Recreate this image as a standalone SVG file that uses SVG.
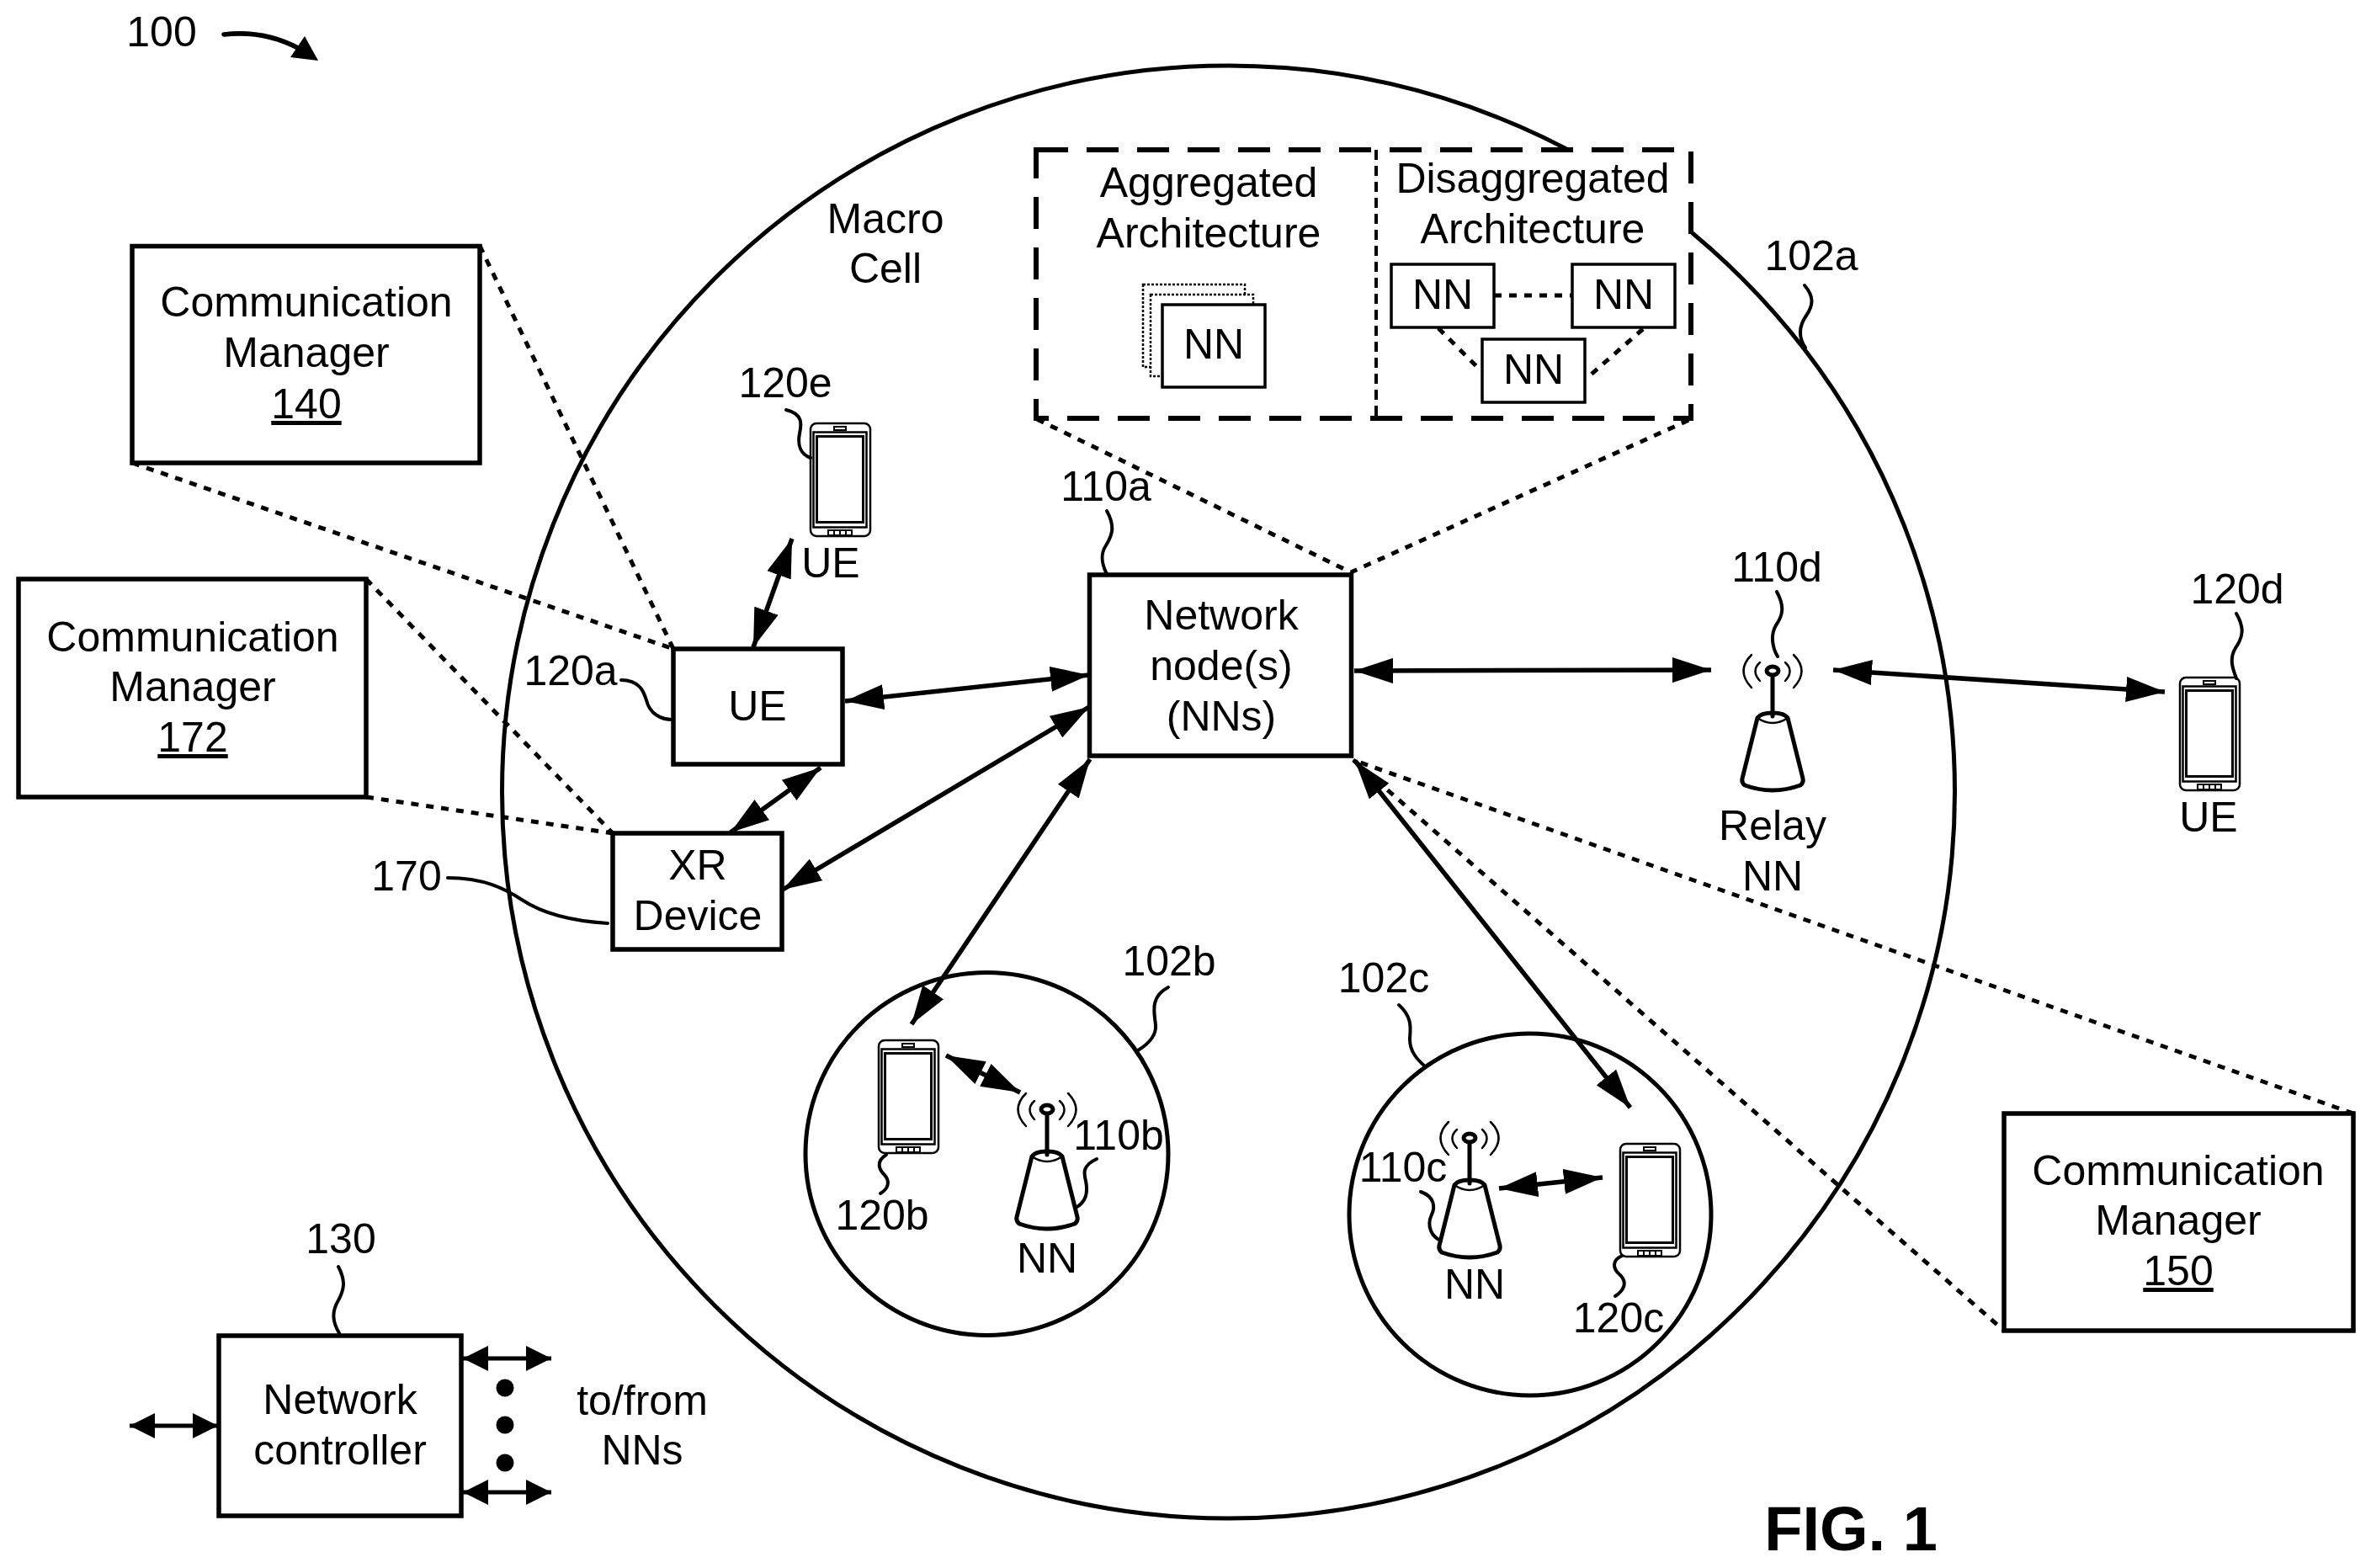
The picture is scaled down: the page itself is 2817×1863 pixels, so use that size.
<svg xmlns="http://www.w3.org/2000/svg" xmlns:xlink="http://www.w3.org/1999/xlink" width="2817" height="1863" viewBox="0 0 2817 1863">
<style>
text{font-family:"Liberation Sans",Arial,sans-serif;font-size:50px;fill:#000;text-anchor:middle}
.b{fill:#fff;stroke:#000;stroke-width:5.5}
.c{fill:none;stroke:#000;stroke-width:5}
.s{fill:none;stroke:#000;stroke-width:4;stroke-linecap:round}
.d{fill:none;stroke:#000;stroke-width:5;stroke-dasharray:9 9}
.a{fill:none;stroke:#000;stroke-width:5.5;marker-start:url(#h);marker-end:url(#h)}
.a2{fill:none;stroke:#000;stroke-width:5;marker-start:url(#m);marker-end:url(#m)}
</style>
<defs>
<marker id="h" markerUnits="userSpaceOnUse" markerWidth="46" markerHeight="30" refX="46" refY="15" orient="auto-start-reverse"><path d="M0,0L46,15L0,30z"/></marker>
<marker id="m" markerUnits="userSpaceOnUse" markerWidth="30" markerHeight="30" refX="30" refY="15" orient="auto-start-reverse"><path d="M0,0L30,15L0,30z"/></marker>
<g id="tower" fill="none" stroke="#000" stroke-linecap="round">
<ellipse cx="0" cy="0" rx="7" ry="5" stroke-width="5"/>
<path d="M0,6V54" stroke-width="5"/>
<path d="M-15,-10Q-26,0 -15,12M15,-10Q26,0 15,12M-25,-19Q-44,0 -25,20M25,-19Q44,0 25,20" stroke-width="2.5"/>
<path d="M-18,56L-36,128Q-37,133 -33,136Q0,148 33,136Q37,133 36,128L18,56Q14,50 0,50Q-14,50 -18,56Z" stroke-width="5"/>
<path d="M-18,56Q0,68 18,56" stroke-width="2.5"/>
</g>
<g id="phone" fill="none" stroke="#000">
<rect x="0" y="0" width="71" height="134" rx="7" stroke-width="2.5"/>
<rect x="3.5" y="10.5" width="63" height="113" stroke-width="2.5"/>
<rect x="7.5" y="15.5" width="55" height="102" stroke-width="3"/>
<rect x="28" y="4" width="14" height="4" stroke-width="2"/>
<path d="M21,127h28v6h-28zM28,127v6M35,127v6M42,127v6" stroke-width="2"/>
</g>
</defs>
<rect width="2817" height="1863" fill="#fff"/>
<g id="macro-cell">
<circle class="c" cx="1459.5" cy="941" r="863"/>
<text x="1052" y="277">Macro</text>
<text x="1052" y="336">Cell</text>
<text x="2152" y="321">102a</text>
<path class="s" d="M2144,339C2155,352 2155,362 2146,375C2137,388 2136,400 2145,413"/>
</g>
<g id="cell-102b">
<circle class="c" cx="1172.5" cy="1371" r="215.5"/>
<text x="1389" y="1159">102b</text>
<path class="s" d="M1388,1173C1365,1185 1372,1205 1373,1218C1374,1230 1365,1240 1352,1248"/>
</g>
<g id="cell-102c">
<circle class="c" cx="1818" cy="1443" r="215"/>
<text x="1644" y="1179">102c</text>
<path class="s" d="M1662,1194C1680,1210 1675,1225 1675,1235C1675,1250 1685,1260 1693,1267"/>
</g>
<g id="connectors">
<path class="d" d="M570,292L800,771M157,550L800,771M435,688L728,990M435,947L728,990"/>
<path class="d" d="M2796,1323L1608,903L2381,1581"/>
<path class="d" d="M1232,498L1605,680L2009,498"/>
<path class="a" d="M1004,833L1294,802"/>
<path class="a" d="M941,640L895,769"/>
<path class="a" d="M975,912L868,989"/>
<path class="a" d="M930,1057L1294,840"/>
<path class="a" d="M1295,902L1083,1217"/>
<path class="a" d="M1124,1254L1212,1298"/>
<path class="a" d="M1610,904L1937,1316"/>
<path class="a" d="M1781,1412L1904,1399"/>
<path class="a" d="M1609,797L2033,796"/>
<path class="a" d="M2178,796L2572,822"/>
<path class="a2" d="M154,1694L259,1694"/>
<path class="a2" d="M550,1614L655,1614"/>
<path class="a2" d="M550,1773L655,1773"/>
</g>
<g id="ref-100">
<text x="192" y="55">100</text>
<path d="M266,41C300,37 330,44 356,58" fill="none" stroke="#000" stroke-width="5.5" stroke-linecap="round"/>
<path d="M378,72L345,68L362,43z"/>
</g>
<g id="cm-140">
<rect class="b" x="157" y="292.5" width="413" height="257.5"/>
<text x="364" y="376">Communication</text>
<text x="364" y="436">Manager</text>
<text x="364" y="497" text-decoration="underline">140</text>
</g>
<g id="cm-172">
<rect class="b" x="22" y="688" width="413" height="259"/>
<text x="229" y="774">Communication</text>
<text x="229" y="833">Manager</text>
<text x="229" y="893" text-decoration="underline">172</text>
</g>
<g id="cm-150">
<rect class="b" x="2381" y="1323" width="415" height="258"/>
<text x="2588" y="1408">Communication</text>
<text x="2588" y="1467">Manager</text>
<text x="2588" y="1527" text-decoration="underline">150</text>
</g>
<g id="architecture">
<rect x="1231" y="178" width="778" height="319" fill="#fff" stroke="#000" stroke-width="6" stroke-dasharray="38 22"/>
<path d="M1635,178V497" fill="none" stroke="#000" stroke-width="4" stroke-dasharray="12 7"/>
<text x="1436" y="234">Aggregated</text>
<text x="1436" y="294">Architecture</text>
<rect x="1358" y="338" width="121" height="98" fill="none" stroke="#000" stroke-width="2.5" stroke-dasharray="3 2"/>
<rect x="1367" y="350" width="122" height="97" fill="#fff" stroke="#000" stroke-width="2.5" stroke-dasharray="3 2"/>
<rect x="1381" y="362" width="122" height="98" fill="#fff" stroke="#000" stroke-width="3.5"/>
<text x="1442" y="426">NN</text>
<text x="1821" y="229">Disaggregated</text>
<text x="1821" y="289">Architecture</text>
<path class="d" d="M1775,351H1868M1709,390L1757,438M1952,391L1889,446"/>
<rect x="1653" y="314" width="122" height="75" fill="#fff" stroke="#000" stroke-width="3.5"/>
<text x="1714" y="367">NN</text>
<rect x="1868" y="314" width="122" height="75" fill="#fff" stroke="#000" stroke-width="3.5"/>
<text x="1929" y="367">NN</text>
<rect x="1761" y="403" width="122" height="75" fill="#fff" stroke="#000" stroke-width="3.5"/>
<text x="1822" y="456">NN</text>
</g>
<g id="node-110a">
<rect class="b" x="1294.5" y="683" width="311" height="215"/>
<text x="1451" y="748">Network</text>
<text x="1451" y="808">node(s)</text>
<text x="1451" y="868">(NNs)</text>
<text x="1314" y="595">110a</text>
<path class="s" d="M1315,607C1325,625 1322,635 1314,648C1306,660 1310,672 1315,682"/>
</g>
<g id="ue-120a">
<rect class="b" x="800" y="771" width="201" height="137"/>
<text x="900" y="856">UE</text>
<text x="678" y="814">120a</text>
<path class="s" d="M738,808C760,808 765,822 768,832C772,848 785,855 799,855"/>
</g>
<g id="xr-170">
<rect class="b" x="728" y="990" width="201" height="138"/>
<text x="829" y="1045">XR</text>
<text x="829" y="1105">Device</text>
<text x="483" y="1058">170</text>
<path class="s" d="M532,1043C575,1043 600,1056 620,1069C650,1089 690,1095 722,1097"/>
</g>
<g id="ue-120e">
<use href="#phone" xlink:href="#phone" x="963" y="503"/>
<text x="933" y="472">120e</text>
<path class="s" d="M934,487C955,492 952,505 950,515C947,530 952,540 963,544"/>
<text x="987" y="686">UE</text>
</g>
<g id="ue-120b">
<use href="#phone" xlink:href="#phone" x="1044" y="1236"/>
<path class="s" d="M1053,1372C1040,1380 1045,1390 1050,1395C1058,1403 1056,1412 1046,1418"/>
<text x="1048" y="1461">120b</text>
</g>
<g id="nn-110b">
<use href="#tower" xlink:href="#tower" x="1244" y="1318"/>
<text x="1244" y="1512">NN</text>
<text x="1329" y="1366">110b</text>
<path class="s" d="M1303,1377C1285,1385 1288,1395 1290,1403C1293,1418 1290,1428 1278,1435"/>
</g>
<g id="nn-110c">
<use href="#tower" xlink:href="#tower" x="1746" y="1352"/>
<text x="1752" y="1543">NN</text>
<text x="1667" y="1404">110c</text>
<path class="s" d="M1688,1416C1705,1422 1705,1435 1701,1443C1694,1458 1702,1470 1712,1474"/>
</g>
<g id="ue-120c">
<use href="#phone" xlink:href="#phone" x="1925" y="1359"/>
<path class="s" d="M1927,1492C1914,1498 1917,1508 1924,1514C1934,1523 1930,1533 1919,1540"/>
<text x="1923" y="1583">120c</text>
</g>
<g id="nn-110d">
<use href="#tower" xlink:href="#tower" x="2106" y="797"/>
<text x="2106" y="998">Relay</text>
<text x="2106" y="1058">NN</text>
<text x="2111" y="691">110d</text>
<path class="s" d="M2111,703C2120,720 2119,730 2110,743C2103,755 2106,770 2112,780"/>
</g>
<g id="ue-120d">
<use href="#phone" xlink:href="#phone" x="2590" y="805"/>
<text x="2624" y="988">UE</text>
<text x="2658" y="717">120d</text>
<path class="s" d="M2657,729C2667,746 2665,757 2656,770C2648,783 2653,795 2657,806"/>
</g>
<g id="controller-130">
<rect class="b" x="260" y="1587" width="288" height="214"/>
<text x="404" y="1680">Network</text>
<text x="404" y="1740">controller</text>
<text x="405" y="1489">130</text>
<path class="s" d="M402,1505C411,1522 409,1532 402,1545C393,1560 396,1572 403,1584"/>
<circle cx="600" cy="1649" r="10.5"/>
<circle cx="600" cy="1693" r="10.5"/>
<circle cx="600" cy="1738" r="10.5"/>
<text x="763" y="1681">to/from</text>
<text x="763" y="1740">NNs</text>
</g>
<text x="2199" y="1842" style="font-weight:bold;font-size:74px">FIG. 1</text>
</svg>
